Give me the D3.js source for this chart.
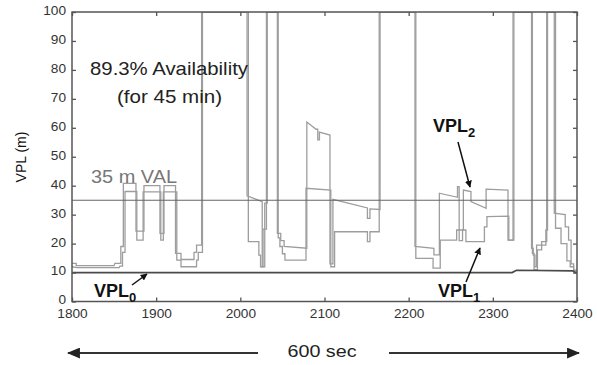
<!DOCTYPE html>
<html>
<head>
<meta charset="utf-8">
<script src="https://cdn.jsdelivr.net/npm/d3@7"></script>
<style>
  html, body { margin: 0; padding: 0; background: #fff; }
  svg { display: block; font-family: "Liberation Sans", Arial, sans-serif; }
</style>
</head>
<body>
<svg id="chart" width="597" height="365"></svg>
<script>
// Time axis (sec) and VPL axis (m)
const xTicks = [1800, 1900, 2000, 2100, 2200, 2300, 2400];
const yTicks = [0, 10, 20, 30, 40, 50, 60, 70, 80, 90, 100];
const valLimit = 35;

// VPL0: fault-free protection level
const vpl0 = [[1800, 10], [2323, 10], [2328, 10.8], [2395, 10.6], [2398, 10], [2400, 10]];

// VPL2: upper protection level trace (100 = unavailable)
const vpl2 = [
  [1800, 13.2], [1805, 13.2], [1805, 12.4], [1850, 12.4], [1851, 13.2], [1858, 13.2], [1858, 19], [1861, 19],
  [1861, 40.8], [1876, 40.8], [1876, 24.3], [1885.5, 24.3], [1885.5, 40], [1904.5, 40], [1904.5, 23.5],
  [1909.3, 23.5], [1909.3, 40], [1923, 40], [1923, 16.6], [1929.5, 16.6], [1929.5, 14.5], [1945, 14.5],
  [1945, 17], [1948, 17], [1948, 19.5], [1954, 19.5], [1954, 100],
  [2008, 100], [2008, 36.5], [2026, 34.5], [2026, 12], [2029, 12], [2029, 34], [2032, 34], [2032, 100],
  [2044, 100], [2044, 23.5], [2048, 23.5], [2048, 21], [2052, 21], [2052, 19], [2079, 18.4], [2079, 62],
  [2090, 59.5], [2092, 59.5], [2092, 55.8], [2094, 55.8], [2094, 58.5], [2106.5, 57.5], [2106.5, 13],
  [2110, 13], [2110, 35.3], [2151, 32.3], [2151, 28.7], [2154, 28.7], [2154, 32], [2166, 31.8], [2166, 100],
  [2207.5, 100], [2207.5, 19], [2230, 18.4], [2230, 16.1], [2236.5, 16.1], [2236.5, 37.4], [2258, 36],
  [2258, 39.7], [2260, 39.7], [2260, 24.7], [2265, 24.7], [2265, 38.5], [2274, 38], [2274, 34.5],
  [2292, 32.2], [2292, 38.8], [2318, 38.5], [2318, 21.2], [2324, 21.2], [2324, 100],
  [2346, 100], [2346, 18.4], [2348, 18.4], [2348, 16], [2350, 16], [2350, 12], [2352, 12], [2352, 19.5],
  [2363, 19.5], [2363, 24.7], [2365, 24.7], [2365, 100], [2373, 100], [2373, 30.5], [2386, 30],
  [2386, 25.8], [2390, 25.8], [2390, 21.2], [2393, 21.2], [2393, 13], [2396, 13], [2396, 10.8], [2400, 10.8]
];

// VPL1: lower protection level trace (100 = unavailable)
const vpl1 = [
  [1800, 12], [1806, 11.7], [1856, 11.7], [1857, 12.2], [1860, 12.2], [1860, 17], [1863, 17],
  [1863, 38], [1877, 38], [1877, 21.2], [1884.5, 21.2], [1884.5, 37.9], [1905.5, 37.9], [1905.5, 21.2],
  [1908.5, 21.2], [1908.5, 37.9], [1924.5, 37.9], [1924.5, 14.3], [1929.5, 14.3], [1929.5, 12],
  [1948, 12], [1948, 14.3], [1950, 14.3], [1950, 17], [1955, 17], [1955, 100],
  [2009.5, 100], [2009.5, 20.7], [2022, 20.7], [2022, 16], [2024, 16], [2024, 12], [2027, 12], [2027, 25],
  [2031, 25], [2031, 100],
  [2045, 100], [2045, 22], [2047, 22], [2047, 19], [2050, 19], [2050, 16.5], [2053, 16.5], [2053, 14.3],
  [2078, 14.3], [2078, 39.1], [2107.5, 38.5], [2107.5, 12], [2112, 12], [2112, 24.1], [2151, 24.1],
  [2151, 20.7], [2154, 20.7], [2154, 24.1], [2165, 24.1], [2165, 100],
  [2208.5, 100], [2208.5, 14.9], [2229, 14.9], [2229, 11.5], [2237.5, 11.5], [2237.5, 21.2], [2257, 21.2],
  [2257, 24.7], [2260, 24.7], [2260, 21], [2264, 21], [2264, 24.7], [2268, 24.7], [2268, 20.7],
  [2290, 20.7], [2290, 25.8], [2293, 25.8], [2293, 29.3], [2319, 29.5], [2319, 21.2], [2325, 21.2], [2325, 100],
  [2347, 100], [2347, 16.6], [2349, 16.6], [2349, 11], [2353, 11], [2353, 17.8], [2358, 17.8], [2358, 20.7],
  [2364, 20.7], [2364, 100], [2374.5, 100], [2374.5, 25.3], [2381, 25.3], [2381, 20], [2388, 20],
  [2388, 14], [2392, 14], [2392, 12], [2396, 12], [2396, 10.5], [2400, 10.5]
];

const svg = d3.select("#chart");
const plotLeft = 72, plotRight = 577, plotTop = 12, plotBottom = 301.5;

const x = d3.scaleLinear().domain([1800, 2400]).range([plotLeft, plotRight]);
const y = d3.scaleLinear().domain([0, 100]).range([plotBottom, plotTop]);

const defs = svg.append("defs");
defs.append("clipPath").attr("id", "plotClip")
  .append("rect").attr("x", plotLeft).attr("y", plotTop)
  .attr("width", plotRight - plotLeft).attr("height", plotBottom - plotTop);
defs.append("marker").attr("id", "headSmall").attr("viewBox", "0 0 10 10")
  .attr("refX", 9).attr("refY", 5).attr("markerWidth", 7).attr("markerHeight", 7)
  .attr("markerUnits", "userSpaceOnUse").attr("orient", "auto")
  .append("path").attr("d", "M0,0 L10,5 L0,10 z").attr("fill", "#111");
defs.append("marker").attr("id", "headBig").attr("viewBox", "0 0 12 10")
  .attr("refX", 11).attr("refY", 5).attr("markerWidth", 13).attr("markerHeight", 11)
  .attr("markerUnits", "userSpaceOnUse").attr("orient", "auto")
  .append("path").attr("d", "M0,0 L12,5 L0,10 z").attr("fill", "#222");

const line = d3.line().x(d => x(d[0])).y(d => y(d[1]));
const plot = svg.append("g").attr("clip-path", "url(#plotClip)");

// VPL traces
[vpl1, vpl2].forEach(s => {
  plot.append("path").datum(s).attr("d", line)
    .attr("fill", "none").attr("stroke", "#9d9d9d").attr("stroke-width", 1.3);
});

// Vertical alert limit
plot.append("path").datum([[1800, valLimit], [2400, valLimit]]).attr("d", line)
  .attr("fill", "none").attr("stroke", "#666").attr("stroke-width", 1.1);

// VPL0
plot.append("path").datum(vpl0).attr("d", line)
  .attr("fill", "none").attr("stroke", "#4a4a4a").attr("stroke-width", 1.7);

// Axes with inward ticks on all four sides; digits drawn slightly wide
const axisStyle = g => {
  g.select(".domain").remove();
  g.selectAll(".tick line").attr("stroke", "#555").attr("stroke-width", 1.3);
  g.selectAll(".tick text").attr("fill", "#333").style("font-size", "12px")
    .each(function () {
      const n = this.textContent.length;
      if (n) d3.select(this).attr("textLength", n * 7.6).attr("lengthAdjust", "spacingAndGlyphs");
    });
};
svg.append("g").attr("transform", `translate(${plotLeft},0)`)
  .call(d3.axisLeft(y).tickValues(yTicks).tickSize(-4).tickSizeOuter(0).tickPadding(6))
  .call(axisStyle)
  .selectAll(".tick text").attr("dy", "0.2em");
svg.append("g").attr("transform", `translate(${plotRight},0)`)
  .call(d3.axisRight(y).tickValues(yTicks).tickSize(-4).tickSizeOuter(0).tickFormat(""))
  .call(axisStyle);
svg.append("g").attr("transform", `translate(0,${plotBottom})`)
  .call(d3.axisBottom(x).tickValues(xTicks).tickSize(-4).tickSizeOuter(0).tickPadding(8).tickFormat(d3.format("d")))
  .call(axisStyle);
svg.append("g").attr("transform", `translate(0,${plotTop})`)
  .call(d3.axisTop(x).tickValues(xTicks).tickSize(-4).tickSizeOuter(0).tickFormat(""))
  .call(axisStyle);

// Plot frame
svg.append("rect").attr("x", plotLeft).attr("y", plotTop)
  .attr("width", plotRight - plotLeft).attr("height", plotBottom - plotTop)
  .attr("fill", "none").attr("stroke", "#555").attr("stroke-width", 1.5);

// Y axis title
svg.append("text").attr("transform", "translate(26,157) rotate(-90)")
  .attr("text-anchor", "middle").attr("fill", "#111").style("font-size", "14px").text("VPL (m)");

// Annotations
svg.append("text").attr("x", 90).attr("y", 75).attr("fill", "#222")
  .style("font-size", "19px").attr("textLength", 158).attr("lengthAdjust", "spacingAndGlyphs")
  .text("89.3% Availability");
svg.append("text").attr("x", 117).attr("y", 103).attr("fill", "#222")
  .style("font-size", "19px").attr("textLength", 105).attr("lengthAdjust", "spacingAndGlyphs")
  .text("(for 45 min)");
svg.append("text").attr("x", 91).attr("y", 182.5).attr("fill", "#777")
  .style("font-size", "19px").attr("textLength", 86).attr("lengthAdjust", "spacingAndGlyphs")
  .text("35 m VAL");

function vplLabel(xp, yp, sub) {
  const t = svg.append("text").attr("x", xp).attr("y", yp).attr("fill", "#111")
    .style("font-size", "18px").style("font-weight", "bold");
  t.append("tspan").text("VPL");
  t.append("tspan").attr("dy", 5).style("font-size", "13px").text(sub);
}
vplLabel(94, 296.7, "0");
vplLabel(433, 131.7, "2");
vplLabel(438, 296.7, "1");

function pointer(x1, y1, x2, y2) {
  svg.append("line").attr("x1", x1).attr("y1", y1).attr("x2", x2).attr("y2", y2)
    .attr("stroke", "#111").attr("stroke-width", 1.5).attr("marker-end", "url(#headSmall)");
}
pointer(132, 285, 147, 274);
pointer(458, 142, 470, 187);
pointer(466, 282, 480, 248);

// 600 sec span
svg.append("line").attr("x1", 258).attr("y1", 353).attr("x2", 68).attr("y2", 353)
  .attr("stroke", "#333").attr("stroke-width", 2).attr("marker-end", "url(#headBig)");
svg.append("line").attr("x1", 389).attr("y1", 353).attr("x2", 579).attr("y2", 353)
  .attr("stroke", "#333").attr("stroke-width", 2).attr("marker-end", "url(#headBig)");
svg.append("text").attr("x", 322).attr("y", 357).attr("text-anchor", "middle").attr("fill", "#222")
  .style("font-size", "17px").attr("textLength", 69).attr("lengthAdjust", "spacingAndGlyphs")
  .text("600 sec");
</script>
</body>
</html>
